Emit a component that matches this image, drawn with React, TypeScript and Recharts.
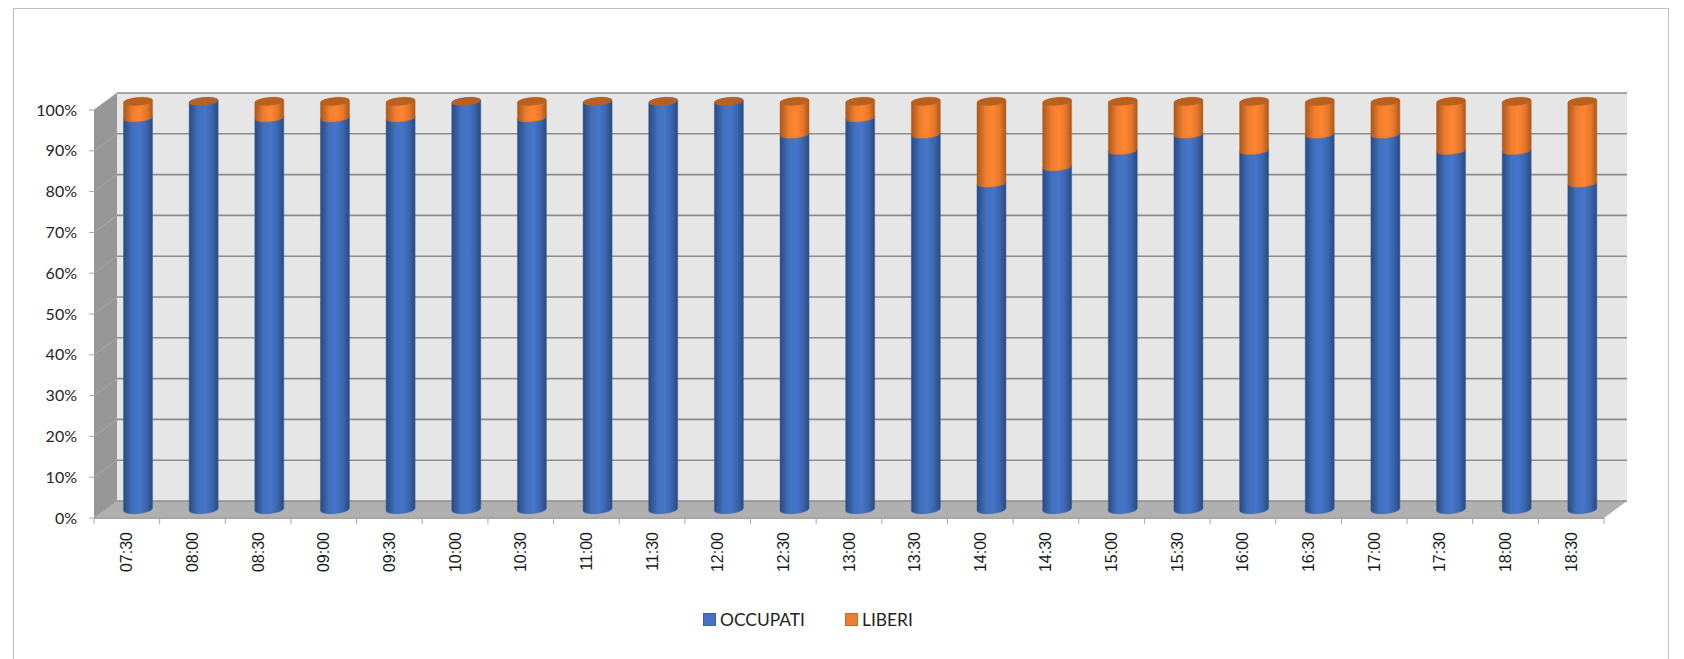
import { Bar, BarChart, CartesianGrid, Legend, XAxis, YAxis, usePlotArea } from "recharts";

const times = [
  "07:30", "08:00", "08:30", "09:00", "09:30", "10:00", "10:30", "11:00",
  "11:30", "12:00", "12:30", "13:00", "13:30", "14:00", "14:30", "15:00",
  "15:30", "16:00", "16:30", "17:00", "17:30", "18:00", "18:30",
];
const occupati = [96, 100, 96, 96, 96, 100, 96, 100, 100, 100, 92, 96, 92, 80, 84, 88, 92, 88, 92, 92, 88, 88, 80];
const liberi = [4, 0, 4, 4, 4, 0, 4, 0, 0, 0, 8, 4, 8, 20, 16, 12, 8, 12, 8, 8, 12, 12, 20];
const yTicks = [0, 10, 20, 30, 40, 50, 60, 70, 80, 90, 100];

const data = times.map((time, i) => ({ time, OCCUPATI: occupati[i], LIBERI: liberi[i] }));

// 3d look: depth of the box, bars sit half way in
const DEPTH_X = 23;
const DEPTH_Y = -17;
const RX = 14.5;
const RY = 4;
const TILT = 1.2;

function Walls() {
  const plot = usePlotArea();
  if (!plot) return null;
  const l = plot.x;
  const r = plot.x + plot.width;
  const t = plot.y;
  const b = plot.y + plot.height;
  return (
    <g>
      <polygon
        points={`${l + DEPTH_X},${t + DEPTH_Y} ${r + DEPTH_X},${t + DEPTH_Y} ${r + DEPTH_X},${b + DEPTH_Y} ${l + DEPTH_X},${b + DEPTH_Y}`}
        fill="#e6e6e6"
      />
      <polygon
        points={`${l},${t} ${l + DEPTH_X},${t + DEPTH_Y} ${l + DEPTH_X},${b + DEPTH_Y} ${l},${b}`}
        fill="#969696"
      />
      <polygon
        points={`${l},${b} ${l + DEPTH_X},${b + DEPTH_Y} ${r + DEPTH_X},${b + DEPTH_Y} ${r},${b}`}
        fill="#b0b0b0"
      />
    </g>
  );
}

function GridLine(props: any) {
  const { x1, x2, y1 } = props;
  const backY = y1 + DEPTH_Y;
  return (
    <g>
      <line x1={x1} y1={y1} x2={x1 + DEPTH_X} y2={backY} stroke="#a8a8a8" strokeWidth={1} />
      <line x1={x1 + DEPTH_X} y1={backY} x2={x2 + DEPTH_X} y2={backY} stroke="#8c8c8c" strokeWidth={1.6} />
    </g>
  );
}

function Cylinder(props: any) {
  const { x, y, width, height, fillId, side, cap } = props;
  const cx = x + width / 2 + DEPTH_X / 2;
  const l = cx - RX;
  const r = cx + RX;
  const top = y + DEPTH_Y / 2;
  const bottom = top + height;
  const arc = (sweep: number, ex: number, ey: number) => `A${RX} ${RY} -5 0 ${sweep} ${ex} ${ey}`;
  const body =
    `M${l} ${top + TILT} L${l} ${bottom + TILT} ` +
    arc(0, r, bottom - TILT) +
    ` L${r} ${top - TILT} ` +
    arc(0, l, top + TILT) +
    " Z";
  return (
    <g>
      {height > 0 && <path d={body} fill={`url(#${fillId})`} stroke={side} strokeWidth={0.5} />}
      {cap && <ellipse cx={cx} cy={top} rx={RX} ry={RY} fill={cap} transform={`rotate(-5 ${cx} ${top})`} />}
    </g>
  );
}

function TimeTick(props: any) {
  const { x, y, payload, index } = props;
  const band = 1510 / times.length;
  return (
    <g>
      <line x1={x - band / 2} y1={y - 8} x2={x - band / 2} y2={y - 2} stroke="#a6a6a6" />
      {index === times.length - 1 && (
        <line x1={x + band / 2} y1={y - 8} x2={x + band / 2} y2={y - 2} stroke="#a6a6a6" />
      )}
      <text
        x={x}
        y={y + 6}
        transform={`rotate(-90 ${x} ${y + 6})`}
        textAnchor="end"
        dominantBaseline="central"
        fontFamily="Liberation Sans"
        fontSize={16}
        fill="#1a1a1a"
      >
        {payload.value}
      </text>
    </g>
  );
}

function LegendRow() {
  const items = [
    { name: "OCCUPATI", color: "#4472c4", border: "#3a62a8", gap: 40 },
    { name: "LIBERI", color: "#ed7d31", border: "#c9692a", gap: 0 },
  ];
  return (
    <div style={{ display: "flex", alignItems: "center", fontFamily: "Lato", fontSize: 17.4, color: "#222" }}>
      {items.map((it) => (
        <span key={it.name} style={{ display: "flex", alignItems: "center", marginRight: it.gap }}>
          <span
            style={{
              width: 11,
              height: 11,
              background: it.color,
              border: `1px solid ${it.border}`,
              marginRight: 4,
            }}
          />
          {it.name}
        </span>
      ))}
    </div>
  );
}

export default function App() {
  return (
    <div style={{ position: "absolute", left: 0, top: 0, width: 1684, height: 659, background: "#fff", overflow: "hidden" }}>
      <div style={{ position: "absolute", left: 13, top: 8, width: 1654, height: 700, border: "1.5px solid #bfbfbf" }} />
      <BarChart
        width={1684}
        height={659}
        data={data}
        margin={{ top: 110, right: 80, bottom: 0, left: 0 }}
        style={{ position: "absolute", left: 0, top: 0 }}
      >
        <defs>
          <linearGradient id="cyl-blue" x1="0" y1="0" x2="1" y2="0">
            <stop offset="0%" stopColor="#2a4a80" />
            <stop offset="30%" stopColor="#4070bd" />
            <stop offset="55%" stopColor="#4676cb" />
            <stop offset="80%" stopColor="#3a64ad" />
            <stop offset="100%" stopColor="#2a4a80" />
          </linearGradient>
          <linearGradient id="cyl-orange" x1="0" y1="0" x2="1" y2="0">
            <stop offset="0%" stopColor="#a9571d" />
            <stop offset="30%" stopColor="#ef7d2e" />
            <stop offset="55%" stopColor="#ff8632" />
            <stop offset="80%" stopColor="#e5762a" />
            <stop offset="100%" stopColor="#a9571d" />
          </linearGradient>
        </defs>
        <Walls />
        <CartesianGrid zIndex={1} vertical={false} horizontal={(p: any) => <GridLine key={p.key} {...p} />} />
        <XAxis
          dataKey="time"
          interval={0}
          height={141}
          axisLine={{ stroke: "#a6a6a6", strokeWidth: 2 }}
          tickLine={false}
          tick={<TimeTick />}
        />
        <YAxis
          domain={[0, 100]}
          ticks={yTicks}
          width={94}
          tickFormatter={(v: number) => `${v}%`}
          axisLine={false}
          tickLine={{ stroke: "#a6a6a6" }}
          tickSize={5}
          tickMargin={12}
          tick={{ fontFamily: "Lato", fontSize: 16, fill: "#262626" }}
        />
        <Bar
          dataKey="OCCUPATI"
          stackId="a"
          barSize={29}
          fill="#4472c4"
          isAnimationActive={false}
          shape={(p: any) => <Cylinder {...p} fillId="cyl-blue" side="#3a62a8" />}
        />
        <Bar
          dataKey="LIBERI"
          stackId="a"
          barSize={29}
          fill="#ed7d31"
          isAnimationActive={false}
          shape={(p: any) => <Cylinder {...p} fillId="cyl-orange" side="#c06a2a" cap="#b8601f" />}
        />
        <Legend
          layout="horizontal"
          verticalAlign="middle"
          content={<LegendRow />}
          wrapperStyle={{ position: "absolute", left: 703, top: 609, width: "auto" }}
        />
      </BarChart>
    </div>
  );
}
